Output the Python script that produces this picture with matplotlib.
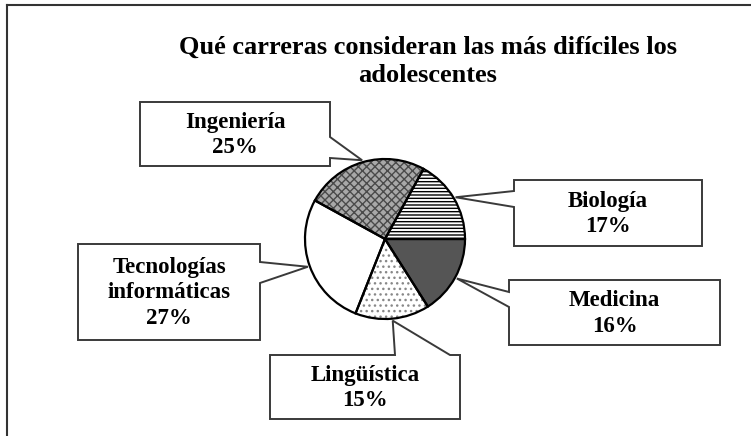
import matplotlib.pyplot as plt
import numpy as np
from matplotlib.patches import Polygon

plt.rcParams['font.family'] = ['Liberation Serif', 'DejaVu Serif']
plt.rcParams['hatch.linewidth'] = 1.0

# data
labels = ['Biología', 'Medicina', 'Lingüística', 'Tecnologías\ninformáticas', 'Ingeniería']
values = [17, 16, 15, 27, 25]
title = 'Qué carreras consideran las más difíciles los\nadolescentes'

# styles per slice
faces = ['white', '#555555', 'white', 'white', '#a8a8a8']
hatches = ['-----', None, '...', None, 'xxxx']
hatch_cols = ['black', 'none', '#888888', 'none', '#4a4a4a']

W, H = 751, 436
fig = plt.figure(figsize=(W / 100, H / 100), dpi=100)
ax = fig.add_axes([0, 0, 1, 1])
ax.set_xlim(0, W)
ax.set_ylim(0, H)
ax.set_aspect('equal')
ax.axis('off')


def Y(y):
    # pixel row from top -> data y
    return H - y


# outer frame (top and left only visible)
ax.plot([7, W], [Y(5), Y(5)], color='#333333', lw=1.5)
ax.plot([7, 7], [Y(5), 0], color='#333333', lw=1.5)

ax.text(428, Y(47), title.split('\n')[0], ha='center', va='center',
        fontsize=19, fontweight='bold')
ax.text(428, Y(76), title.split('\n')[1], ha='center', va='center',
        fontsize=19, fontweight='bold')

cx, cy, r = 385, Y(239), 80
start = 61.2
kw = dict(center=(cx, cy), radius=r, startangle=start, counterclock=False)

w1, _ = ax.pie(values, colors=faces, wedgeprops=dict(linewidth=0), **kw)
w2, _ = ax.pie(values, colors=['none'] * 5, wedgeprops=dict(linewidth=0), **kw)
for w, h, c in zip(w2, hatches, hatch_cols):
    if h:
        w.set_hatch(h)
        w.set_edgecolor(c)
    w.set_facecolor('none')
w3, _ = ax.pie(values, colors=['none'] * 5,
               wedgeprops=dict(linewidth=1.6, edgecolor='black'), **kw)
ax.set_xlim(0, W)
ax.set_ylim(0, H)

# callout layout: box (x0, y0, x1, y1) in pixels from top, side of pointer, pointer base
boxes = [
    ((514, 180, 702, 246), 'left', (191, 207)),
    ((509, 280, 720, 345), 'left', (292, 307)),
    ((270, 355, 460, 419), 'top', (395, 450)),
    ((78, 244, 260, 340), 'right', (262, 283)),
    ((140, 102, 330, 166), 'right', (137, 158)),
]

# wedge mid angles for pointer tips
cum = np.cumsum([0] + values)
for i, (lab, v) in enumerate(zip(labels, values)):
    mid = start - 360 * (cum[i] + v / 2) / sum(values)
    tx = cx + (r + 2) * np.cos(np.radians(mid))
    ty = cy + (r + 2) * np.sin(np.radians(mid))
    (x0, y0, x1, y1), side, (pa, pb) = boxes[i]
    if side == 'left':
        pts = [(x0, y0), (x1, y0), (x1, y1), (x0, y1), (x0, pb), None, (x0, pa)]
    elif side == 'right':
        pts = [(x0, y0), (x1, y0), (x1, pa), None, (x1, pb), (x1, y1), (x0, y1)]
    else:
        pts = [(x0, y0), (pa, y0), None, (pb, y0), (x1, y0), (x1, y1), (x0, y1)]
    verts = [(tx, ty) if p is None else (p[0], Y(p[1])) for p in pts]
    ax.add_patch(Polygon(verts, closed=True, facecolor='white',
                         edgecolor='#3a3a3a', lw=1.4, zorder=3))
    txt = f'{lab}\n{v}%'
    ax.text((x0 + x1) / 2, Y((y0 + y1) / 2 + 1), txt, ha='center', va='center',
            fontsize=16.5, fontweight='bold', linespacing=1.3, zorder=4)

fig.savefig('out.png', dpi=100)
